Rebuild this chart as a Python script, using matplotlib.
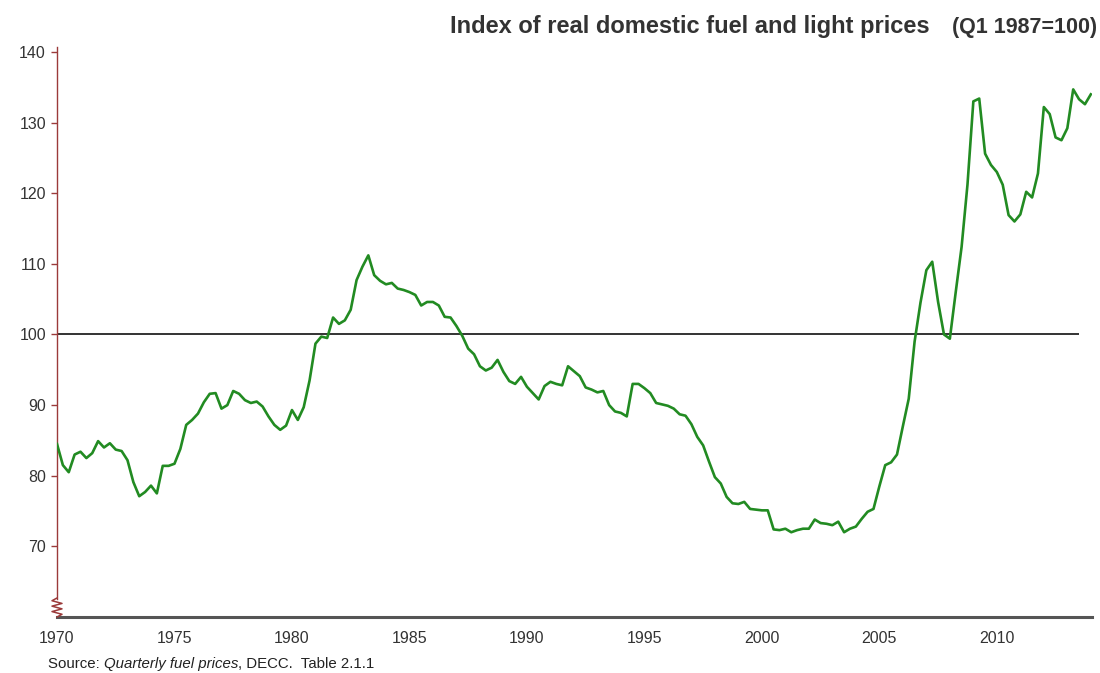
import numpy as np
import pandas as pd
import matplotlib
matplotlib.use("Agg")
import matplotlib.pyplot as plt
from matplotlib.lines import Line2D

# ---------------- data ----------------
start_quarter = "1970Q1"
index_values = [
    84.5, 81.5, 80.5, 83.0, 83.4, 82.5, 83.2, 84.9, 84.0, 84.6,   # 1970-72
    83.7, 83.5, 82.2, 79.1, 77.1, 77.7, 78.6, 77.5, 81.4, 81.4,   # 1972-74
    81.7, 83.8, 87.2, 87.9, 88.8, 90.4, 91.6, 91.7, 89.5, 90.0,   # 1975-77
    92.0, 91.6, 90.7, 90.3, 90.5, 89.8, 88.4, 87.2, 86.5, 87.1,   # 1977-79
    89.3, 87.9, 89.7, 93.5, 98.7, 99.7, 99.5, 102.4, 101.5, 102.0, # 1980-82
    103.5, 107.7, 109.6, 111.2, 108.4, 107.6, 107.1, 107.3, 106.5, 106.3,  # 1982-84
    106.0, 105.6, 104.1, 104.6, 104.6, 104.1, 102.5, 102.4, 101.2, 99.8,   # 1985-87
    98.0, 97.2, 95.5, 94.9, 95.3, 96.4, 94.7, 93.4, 93.0, 94.0,   # 1987-89
    92.6, 91.7, 90.8, 92.7, 93.3, 93.0, 92.8, 95.5, 94.8, 94.1,   # 1990-92
    92.5, 92.2, 91.8, 92.0, 90.0, 89.1, 88.9, 88.4, 93.0, 93.0,   # 1992-94
    92.4, 91.7, 90.3, 90.1, 89.9, 89.5, 88.7, 88.5, 87.3, 85.5,   # 1995-97
    84.3, 82.0, 79.8, 78.9, 77.0, 76.1, 76.0, 76.3, 75.3, 75.2,   # 1997-99
    75.1, 75.1, 72.4, 72.3, 72.5, 72.0, 72.3, 72.5, 72.5, 73.8,   # 2000-02
    73.3, 73.2, 73.0, 73.5, 72.0, 72.5, 72.8, 73.9, 74.9, 75.3,   # 2002-04
    78.5, 81.5, 81.9, 83.0, 87.0, 90.9, 99.0, 104.5, 109.1, 110.3, # 2005-07
    104.6, 100.0, 99.4, 106.0, 112.4, 121.2, 133.0, 133.4, 125.6, 124.0,  # 2007-09
    123.0, 121.2, 116.9, 116.0, 117.0, 120.2, 119.4, 122.8, 132.2, 131.2,  # 2010-12
    127.9, 127.5, 129.2, 134.7, 133.3, 132.6, 134.0,               # 2012-14
]
year_ticks = [1970, 1975, 1980, 1985, 1990, 1995, 2000, 2005, 2010]
y_ticks = [70, 80, 90, 100, 110, 120, 130, 140]
base_value = 100
base_line_end = 2013.5

title_main = "Index of real domestic fuel and light prices"
title_paren = "(Q1 1987=100)"
source_parts = [("Source: ", "normal"), ("Quarterly fuel prices", "italic"),
                (", DECC.  Table 2.1.1", "normal")]

# ---------------- derived x (decimal years) ----------------
periods = pd.period_range(start_quarter, periods=len(index_values), freq="Q")
x = periods.year + (periods.quarter - 1) / 4.0

# ---------------- figure ----------------
plt.rcParams["font.family"] = ["Liberation Sans", "DejaVu Sans"]
W, H = 1100, 673
fig = plt.figure(figsize=(W / 100, H / 100), dpi=100)
fig.patch.set_facecolor("white")

ax_left, ax_right, ax_top, ax_bot = 57, 1092, 47, 617
ax = fig.add_axes([ax_left / W, 1 - ax_bot / H, (ax_right - ax_left) / W, (ax_bot - ax_top) / H])

ax.plot(x, index_values, color="#228b22", lw=1.9, solid_joinstyle="round", zorder=3)
ax.hlines(base_value, x[0], base_line_end, color="#111111", lw=1.2, zorder=2)

ax.set_xlim(1970, 2014.05)
ax.set_ylim(60, 140.7)
ax.set_xticks(year_ticks)
ax.set_xticklabels([str(t) for t in year_ticks])
ax.set_yticks(y_ticks)
ax.set_yticklabels([str(t) for t in y_ticks])

axis_red = "#9b3a3a"
text_col = "#333333"
for s in ["top", "right"]:
    ax.spines[s].set_visible(False)
ax.spines["bottom"].set_color("#555555")
ax.spines["bottom"].set_linewidth(2.2)
ax.spines["left"].set_color(axis_red)
ax.spines["left"].set_linewidth(1.0)
ax.spines["left"].set_bounds(62.6, 140.7)

ax.tick_params(axis="x", length=0, pad=10, labelsize=11.5, labelcolor=text_col)
ax.tick_params(axis="y", length=4, width=1, color=axis_red, pad=4,
               labelsize=11.5, labelcolor=text_col, direction="out")

# zigzag break at bottom of the y-axis
px_w = (ax_right - ax_left)
px_h = (ax_bot - ax_top)
zx = np.array([0, -5, 5, -5, 5, -5, 5, 0]) / px_w
zy = np.linspace(19, 0, 8) / px_h
ax.add_line(Line2D(zx, zy, transform=ax.transAxes, color=axis_red, lw=1.1,
                   clip_on=False, zorder=4))

# ---------------- title ----------------
fig.canvas.draw()
renderer = fig.canvas.get_renderer()
ty = 1 - 33 / H
tp = fig.text(1097 / W, ty, title_paren, ha="right", va="baseline",
              fontsize=15.5, fontweight="bold", color=text_col)
bb = tp.get_window_extent(renderer)
fig.text((bb.x0 - 22) / W, ty, title_main, ha="right", va="baseline",
         fontsize=17, fontweight="bold", color=text_col)

# ---------------- source ----------------
sx = 48
sy = 1 - 668 / H
for txt, style in source_parts:
    t = fig.text(sx / W, sy, txt, ha="left", va="baseline", fontsize=10.8,
                 style=style, color="#222222")
    sx = t.get_window_extent(renderer).x1

fig.savefig("out.png", dpi=100, facecolor="white")
